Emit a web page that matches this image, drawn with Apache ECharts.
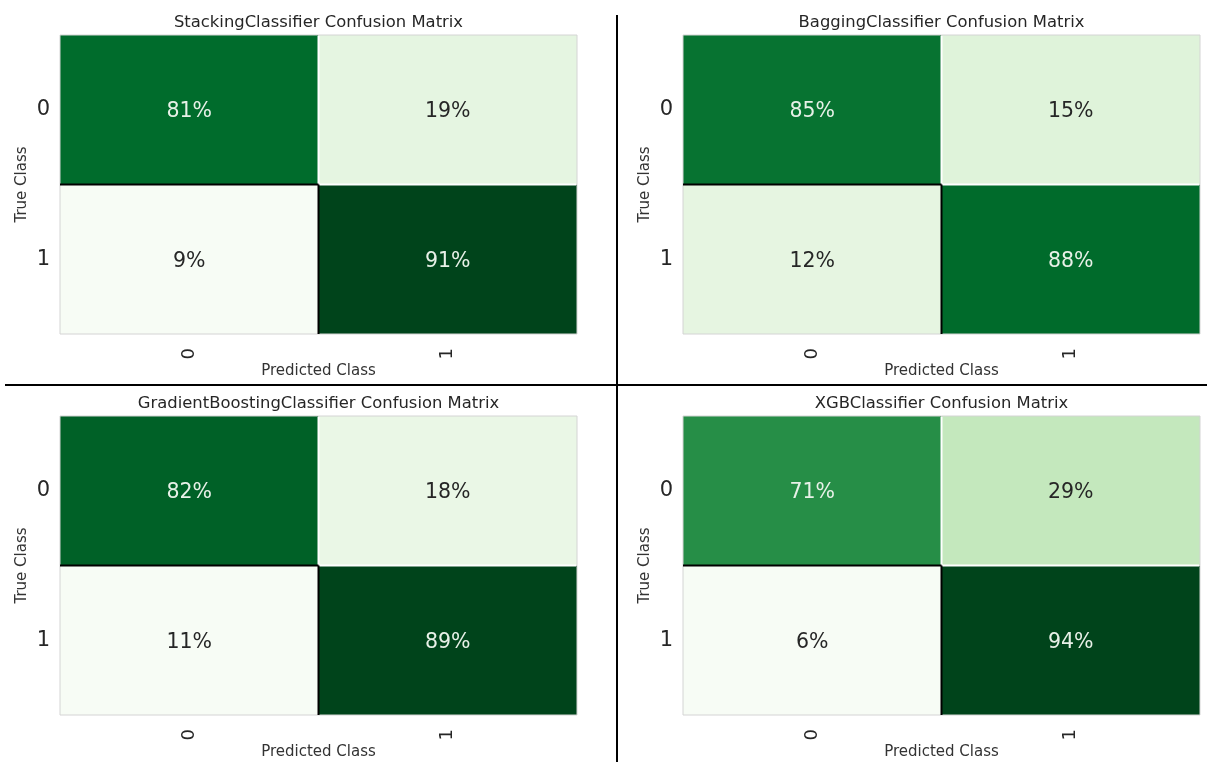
<!DOCTYPE html>
<html>
<head>
<meta charset="utf-8">
<script src="https://cdn.jsdelivr.net/npm/echarts@6/dist/echarts.min.js"></script>
<style>html,body{margin:0;padding:0;background:#fff;}#chart{width:1207px;height:762px;}</style>
</head>
<body>
<div id="chart"></div>
<script>
// ---- data ----
const modelNames = ['StackingClassifier', 'BaggingClassifier', 'GradientBoostingClassifier', 'XGBClassifier'];
const classLabels = ['0', '1'];
// row-major: [true0/pred0, true0/pred1, true1/pred0, true1/pred1] in percent
const stackingValues = [81, 19, 9, 91];
const baggingValues = [85, 15, 12, 88];
const gradientBoostingValues = [82, 18, 11, 89];
const xgbValues = [71, 29, 6, 94];
// colour scale range per panel
const colorMin = [9, 0, 11, 6];
const colorMax = [91, 100, 89, 94];

const allValues = [stackingValues, baggingValues, gradientBoostingValues, xgbValues];
const greens = ['#f7fcf5', '#e5f5e0', '#c7e9c0', '#a1d99b', '#74c476', '#41ab5d', '#238b45', '#006d2c', '#00441b'];
const FONT = 'DejaVu Sans';

const gridPos = [
  {left: 60, top: 35}, {left: 683, top: 35},
  {left: 60, top: 416}, {left: 683, top: 416}
];
const GW = 517, GH = 299;

function makeRender(panel) {
  return function (params, api) {
    const x = api.value(0), y = api.value(1), v = api.value(2);
    const c = api.coord([x, y]);
    const s = api.size([1, 1]);
    const x0 = c[0] - s[0] / 2, y0 = c[1] - s[1] / 2, x1 = x0 + s[0], y1 = y0 + s[1];
    const norm = (v - colorMin[panel]) / (colorMax[panel] - colorMin[panel]);
    const children = [{
      type: 'rect', z2: 0,
      shape: {x: x0, y: y0, width: s[0], height: s[1]},
      style: {fill: api.visual('color'), stroke: '#d4d4d4', lineWidth: 1}
    }, {
      type: 'text', z2: 20,
      style: {text: v + '%', x: c[0], y: c[1] + 2, align: 'center', verticalAlign: 'middle',
        fill: norm > 0.5 ? '#e8f1e8' : '#262626', font: '20.5px "' + FONT + '"'}
    }];
    function line(ax, ay, bx, by, color) {
      children.push({type: 'line', z2: color === '#000' ? 12 : 10,
        shape: {x1: ax, y1: ay, x2: bx, y2: by},
        style: {stroke: color, lineWidth: 2}});
    }
    if (x === 0 && y === 0) line(x1, y0 + 1, x1, y1, '#fff');
    if (x === 1 && y === 1) line(x0, y0, x1 - 1, y0, '#fff');
    if (x === 0 && y === 1) line(x0, y0, x1, y0, '#000');
    if (x === 1 && y === 1) line(x0, y0, x0, y1, '#000');
    return {type: 'group', children: children};
  };
}

const option = {
  animation: false,
  backgroundColor: '#fff',
  title: modelNames.map((m, i) => ({
    text: m + ' Confusion Matrix',
    left: gridPos[i].left + GW / 2,
    top: gridPos[i].top - 20,
    textAlign: 'center',
    padding: 0,
    textStyle: {fontFamily: FONT, fontSize: 16.4, fontWeight: 'normal', color: '#262626'}
  })),
  grid: gridPos.map(g => ({left: g.left, top: g.top, width: GW, height: GH, containLabel: false})),
  xAxis: gridPos.map((g, i) => ({
    type: 'category', gridIndex: i, data: classLabels,
    name: 'Predicted Class', nameLocation: 'middle', nameGap: 28,
    nameTextStyle: {fontFamily: FONT, fontSize: 15, color: '#333'},
    axisLine: {show: false}, axisTick: {show: false}, splitLine: {show: false},
    axisLabel: {rotate: 90, fontFamily: FONT, fontSize: 18, color: '#262626', margin: 14}
  })),
  yAxis: gridPos.map((g, i) => ({
    type: 'category', gridIndex: i, data: classLabels, inverse: true,
    name: 'True Class', nameLocation: 'middle', nameGap: 30, nameRotate: 90,
    nameTextStyle: {fontFamily: FONT, fontSize: 15, color: '#333'},
    axisLine: {show: false}, axisTick: {show: false}, splitLine: {show: false},
    axisLabel: {fontFamily: FONT, fontSize: 21, color: '#262626', margin: 10, padding: [4, 0, 0, 0]}
  })),
  visualMap: allValues.map((vals, i) => ({
    type: 'continuous', show: false, seriesIndex: i, dimension: 2,
    min: colorMin[i], max: colorMax[i], inRange: {color: greens}
  })),
  series: allValues.map((vals, i) => ({
    type: 'custom', xAxisIndex: i, yAxisIndex: i,
    renderItem: makeRender(i),
    encode: {x: 0, y: 1},
    data: vals.map((v, k) => [k % 2, Math.floor(k / 2), v])
  })),
  graphic: [
    {type: 'line', shape: {x1: 617, y1: 15, x2: 617, y2: 762}, style: {stroke: '#000', lineWidth: 2}},
    {type: 'line', shape: {x1: 5, y1: 385, x2: 1207, y2: 385}, style: {stroke: '#000', lineWidth: 2}}
  ]
};

const chart = echarts.init(document.getElementById('chart'), null, {renderer: 'canvas'});
chart.setOption(option);
</script>
</body>
</html>
